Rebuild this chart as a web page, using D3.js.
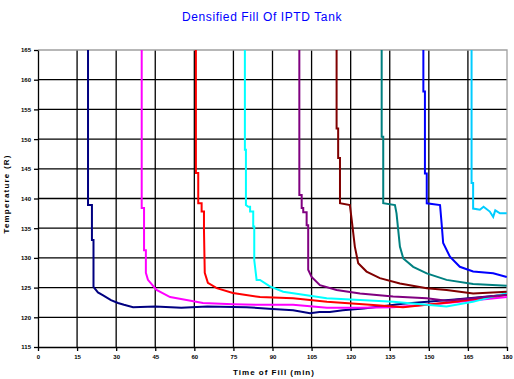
<!DOCTYPE html>
<html>
<head>
<meta charset="utf-8">
<script src="https://cdn.jsdelivr.net/npm/d3@7"></script>
<style>
  body { margin: 0; background: #fff; }
  svg { display: block; font-family: "Liberation Sans", Arial, sans-serif; }
</style>
</head>
<body>
<div id="chart"></div>
<script>
const title = "Densified Fill Of IPTD Tank";
const xTitle = "Time of Fill (min)";
const yTitle = "Temperature (R)";
const xTicks = [0, 15, 30, 45, 60, 75, 90, 105, 120, 135, 150, 165, 180];
const yTicks = [115, 120, 125, 130, 135, 140, 145, 150, 155, 160, 165];
const colors = ["#000080", "#ff00ff", "#ff0000", "#00ffff", "#800080", "#800000", "#008080", "#0000ff", "#00ccff"];

// [minutes, temperature] readings for each fill
const fill1 = [[19.2,165],[19.2,138.9],[20.7,138.9],[20.7,133],[21.3,133],[21.3,125.1],[23,124.2],[25,123.7],[28,122.9],[30.7,122.4],[33,122.1],[36.5,121.7],[45,121.8],[55,121.6],[65,121.8],[80,121.7],[90,121.4],[97.9,121.2],[104.4,120.7],[108,120.9],[112,120.9],[117,121.2],[125,121.5],[140,122.3],[160,123],[180,123.8]];
const fill2 = [[39.8,165],[39.8,138.4],[40.7,138.4],[40.7,131.3],[41.4,131.3],[41.4,127.5],[42.2,126.3],[45.5,124.6],[50.7,123.4],[57,122.9],[63.3,122.4],[74.8,122.2],[85.2,122.1],[97.9,122.1],[110.9,121.6],[123.6,121.6],[136.2,121.7],[149.3,122.1],[161.9,122.6],[180,123.4]];
const fill3 = [[60.6,165],[60.6,144.3],[61.5,144.3],[61.5,139.2],[62.8,139.2],[62.8,137.8],[63.7,137.8],[63.7,134.7],[64,127.5],[65.2,125.8],[68.6,124.9],[74.8,124.1],[85.2,123.4],[97.9,123.2],[110.9,122.6],[127.4,122.1],[140.1,121.7],[160,122.6],[180,123.8]];
const fill4 = [[79.4,165],[79.4,148.2],[79.8,148.2],[79.8,138.9],[80.7,138.6],[81.4,138.6],[81.4,137.8],[82.6,137.8],[82.6,135.3],[83,135.3],[83,129.6],[83.9,126.3],[85.2,126.3],[89,125.2],[94.1,124.3],[101.8,123.8],[110.8,123.2],[123.6,122.9],[136.3,122.6],[149.2,122.1],[156.8,121.8],[166.9,122.6],[179.9,124.1]];
const fill5 = [[100.3,165],[100.3,140.6],[101.2,140.6],[101.2,138.4],[101.8,138.4],[101.8,137.7],[103.1,137.7],[103.1,135.5],[103.7,135.5],[103.7,128],[105,126.8],[108.2,125.4],[114.6,124.6],[123.6,124],[136.3,123.5],[149.2,123.2],[156.8,122.8],[167,123.2],[179.9,123.8]];
const fill6 = [[114.6,165],[114.6,151.8],[115.2,151.8],[115.2,146.8],[115.9,146.8],[115.9,139.2],[119.7,138.9],[120.4,136.4],[121.6,131.9],[122.9,129.1],[126.1,127.7],[131.2,126.6],[138.9,125.7],[149.2,124.9],[156.8,124.6],[167,124],[179.9,124.3]];
const fill7 = [[131.9,165],[131.9,150.4],[132.5,150.4],[132.5,139.2],[137,138.9],[137.6,137.5],[138.9,131.9],[140.2,129.9],[144,128.5],[149.2,127.4],[156.8,126.3],[167,125.6],[179.9,125.3]];
const fill8 = [[147.9,165],[147.9,158],[148.5,158],[148.5,144.2],[149.2,144.2],[149.2,139.2],[154.3,138.9],[154.9,135.8],[155.5,132.5],[158.1,130.2],[161.9,128.5],[167,127.7],[174.7,127.4],[179.9,126.8]];
const fill9 = [[166.4,165],[166.4,142.6],[167,142.6],[167,138.3],[169.6,138.1],[171,138.6],[173.4,137.8],[174.7,136.9],[175.5,138],[177.3,137.5],[179.9,137.5]];
const fills = [fill1, fill2, fill3, fill4, fill5, fill6, fill7, fill8, fill9];

const W = 514, H = 379;
const margin = { top: 50, right: 7, bottom: 32, left: 38 };
const width = W - margin.left - margin.right;
const height = H - margin.top - margin.bottom;

const svg = d3.select("#chart").append("svg")
  .attr("width", W).attr("height", H);

svg.append("text")
  .attr("x", 262).attr("y", 21)
  .attr("text-anchor", "middle")
  .attr("fill", "#0000ff")
  .style("font-size", "12px")
  .style("letter-spacing", "0.6px")
  .text(title);

const g = svg.append("g")
  .attr("transform", "translate(" + margin.left + "," + margin.top + ")");

const x = d3.scaleLinear().domain([0, 180]).range([0, width]);
const y = d3.scaleLinear().domain([115, 165]).range([height, 0]);

// grid
g.selectAll(".hgrid")
  .data(yTicks.filter(d => d !== 165 && d !== 115))
  .enter().append("line")
  .attr("x1", 0).attr("x2", width)
  .attr("y1", d => y(d)).attr("y2", d => y(d))
  .attr("stroke", "#000").attr("stroke-width", 1.3);

g.selectAll(".vgrid")
  .data(xTicks.filter(d => d !== 0 && d !== 180))
  .enter().append("line")
  .attr("x1", d => x(d)).attr("x2", d => x(d))
  .attr("y1", 0).attr("y2", height)
  .attr("stroke", "#000").attr("stroke-width", 1.3);

// gray frame on top and right
g.append("path")
  .attr("d", "M0," + y(165) + "H" + x(180) + "V" + y(115))
  .attr("fill", "none").attr("stroke", "#a0a0a0").attr("stroke-width", 1.3);

// series
g.append("clipPath").attr("id", "clip")
  .append("rect").attr("x", 0).attr("y", -2).attr("width", width).attr("height", height + 2);

const line = d3.line().x(d => x(d[0])).y(d => y(d[1]));
g.append("g").attr("clip-path", "url(#clip)")
  .selectAll("path")
  .data(fills)
  .enter().append("path")
  .attr("d", line)
  .attr("fill", "none")
  .attr("stroke", (d, i) => colors[i])
  .attr("stroke-width", 2);

// axes
const xAxis = g.append("g")
  .attr("transform", "translate(0," + height + ")")
  .call(d3.axisBottom(x).tickValues(xTicks).tickSize(4).tickSizeOuter(0));
const yAxis = g.append("g")
  .call(d3.axisLeft(y).tickValues(yTicks).tickSize(4).tickSizeOuter(0));

[xAxis, yAxis].forEach(a => {
  a.select(".domain").attr("stroke", "#000").attr("stroke-width", 1.3);
  a.selectAll(".tick line").attr("stroke", "#000").attr("stroke-width", 1.3);
  a.selectAll("text").style("font-size", "6px").style("font-weight", "bold").attr("fill", "#000");
});
xAxis.selectAll("text").attr("dy", "0.9em");

svg.append("text")
  .attr("x", 274).attr("y", 375)
  .attr("text-anchor", "middle")
  .style("font-size", "8px").style("font-weight", "bold")
  .style("letter-spacing", "1px")
  .text(xTitle);

svg.append("text")
  .attr("transform", "translate(9," + 194 + ") rotate(-90)")
  .attr("text-anchor", "middle")
  .style("font-size", "8px").style("font-weight", "bold")
  .style("letter-spacing", "1.2px")
  .text(yTitle);
</script>
</body>
</html>
